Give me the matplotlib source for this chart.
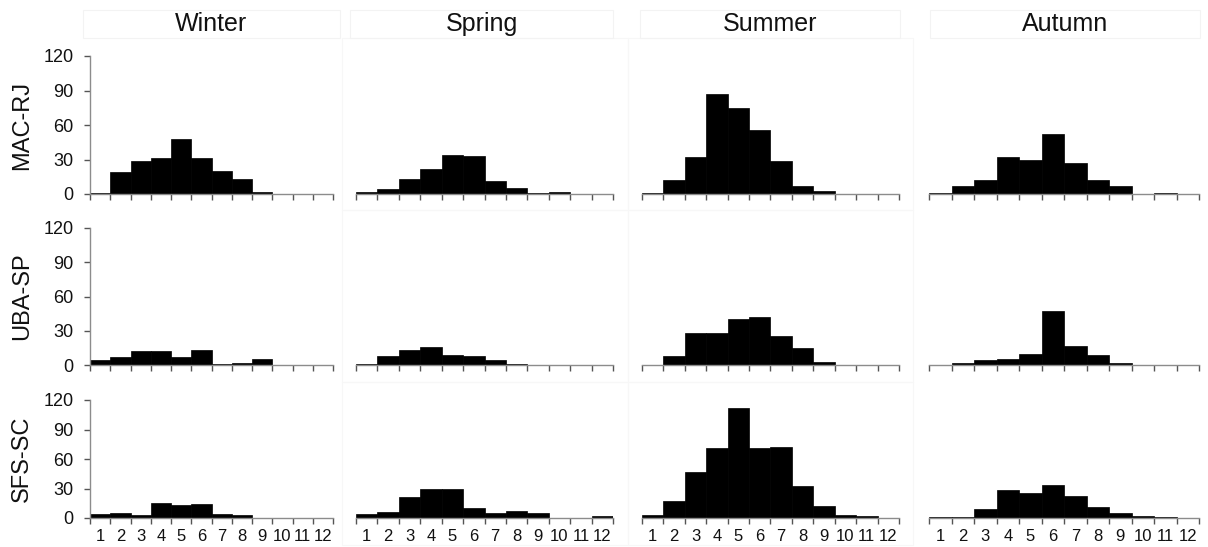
import numpy as np
import matplotlib
matplotlib.use('Agg')
import matplotlib.pyplot as plt
from matplotlib.patches import Rectangle

plt.rcParams['font.family'] = ['Liberation Sans', 'DejaVu Sans']

seasons = ['Winter', 'Spring', 'Summer', 'Autumn']
sites = ['MAC-RJ', 'UBA-SP', 'SFS-SC']
classes = list(range(1, 13))

# counts per class, one list per season for each site
mac_rj = {
    'Winter': [1, 19, 29, 31, 48, 31, 20, 13, 2, 0, 0, 0],
    'Spring': [2, 4, 13, 22, 34, 33, 11, 5, 1, 2, 0, 0],
    'Summer': [1, 12, 32, 87, 75, 56, 29, 7, 3, 0, 0, 0],
    'Autumn': [1, 7, 12, 32, 30, 52, 27, 12, 7, 0, 1, 0],
}
uba_sp = {
    'Winter': [4, 7, 12, 12, 7, 13, 1, 2, 5, 0, 0, 0],
    'Spring': [1, 8, 13, 16, 9, 8, 4, 1, 0, 0, 0, 0],
    'Summer': [0, 8, 28, 28, 40, 42, 25, 15, 3, 0, 0, 0],
    'Autumn': [0, 2, 4, 5, 10, 47, 17, 9, 2, 0, 0, 0],
}
sfs_sc = {
    'Winter': [4, 5, 3, 15, 13, 14, 4, 3, 0, 0, 0, 0],
    'Spring': [4, 6, 21, 29, 29, 10, 5, 7, 5, 0, 0, 2],
    'Summer': [3, 17, 47, 71, 112, 71, 72, 33, 12, 3, 2, 0],
    'Autumn': [1, 1, 9, 28, 25, 34, 22, 11, 5, 2, 1, 0],
}
site_data = [mac_rj, uba_sp, sfs_sc]

yticks = [0, 30, 60, 90, 120]

W, H = 1208, 547
fig = plt.figure(figsize=(W / 100, H / 100), dpi=100)

# panel extents in pixels: (left, right) per column, (top, bottom) per row
col_px = [(90, 333), (356, 613), (642, 899), (929, 1199)]
row_px = [(56, 194), (228, 365), (400, 518)]
axis_grey = '#8c8c8c'


def px_rect(x0, y0, x1, y1):
    return [x0 / W, 1 - y1 / H, (x1 - x0) / W, (y1 - y0) / H]


# very faint frames of the chart cells and header strips
frame_cols = [(342, 628), (628, 913)]
frame_rows = [(38, 210), (210, 382), (382, 545)]
header_boxes = [(83, 340), (350, 613), (640, 900), (930, 1200)]
for x0, x1 in frame_cols:
    for y0, y1 in frame_rows:
        fig.add_artist(Rectangle((x0 / W, 1 - y1 / H), (x1 - x0) / W, (y1 - y0) / H,
                                 transform=fig.transFigure, fill=False,
                                 edgecolor='#f7f7f7', linewidth=0.8))
for (x0, x1), season in zip(header_boxes, seasons):
    fig.add_artist(Rectangle((x0 / W, 1 - 38 / H), (x1 - x0) / W, 28 / H,
                             transform=fig.transFigure, fill=False,
                             edgecolor='#f3f3f3', linewidth=0.8))
    fig.text((x0 + x1) / 2 / W, 1 - 24 / H, season, ha='center', va='center',
             fontsize=18, color='#111111')

for r, (site, data) in enumerate(zip(sites, site_data)):
    top, bottom = row_px[r]
    for c, season in enumerate(seasons):
        left, right = col_px[c]
        ax = fig.add_axes(px_rect(left, top, right, bottom))
        ax.bar(classes, data[season], width=1.0, color='black',
               edgecolor='black', linewidth=0.5, zorder=2)
        ax.set_xlim(0.5, 12.5)
        ax.set_ylim(0, 120)
        for s in ['top', 'right']:
            ax.spines[s].set_visible(False)
        ax.spines['bottom'].set_color(axis_grey)
        ax.spines['bottom'].set_linewidth(1.0)
        ax.spines['bottom'].set_zorder(3)

        # bin edges get tick marks, class numbers sit under bin centres
        ax.set_xticks(np.arange(0.5, 13, 1.0))
        ax.set_xticklabels([])
        ax.tick_params(axis='x', which='major', direction='out', length=4,
                       width=1.0, color='#555555')
        ax.set_xticks(classes, minor=True)
        if r == len(sites) - 1:
            ax.set_xticklabels([str(k) for k in classes], minor=True)
        ax.tick_params(axis='x', which='minor', length=0, pad=8,
                       labelsize=12, labelcolor='#111111')

        if c == 0:
            ax.spines['left'].set_color(axis_grey)
            ax.spines['left'].set_linewidth(1.0)
            ax.set_yticks(yticks)
            ax.tick_params(axis='y', direction='out', length=4, width=1.0,
                           color='#555555', pad=8, labelsize=13,
                           labelcolor='#111111')
        else:
            ax.spines['left'].set_visible(False)
            ax.set_yticks([])

    fig.text(22 / W, 1 - (top + bottom) / 2 / H, site, rotation=90,
             ha='center', va='center', fontsize=17, color='#111111')

fig.savefig('out.png', dpi=100, facecolor='white')
